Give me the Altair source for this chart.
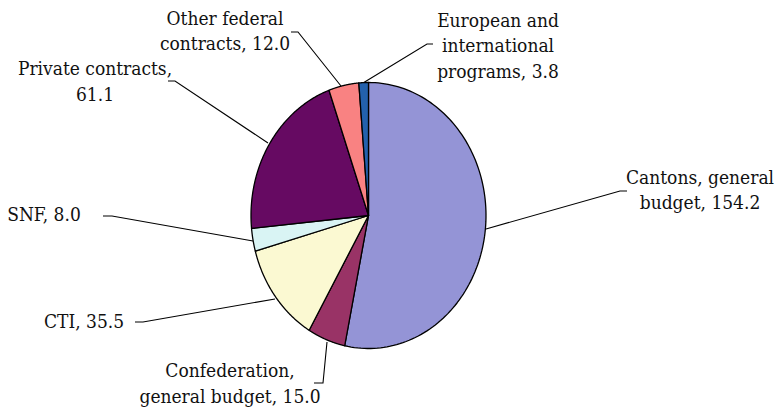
import altair as alt
import pandas as pd

# ---------------- data ----------------
categories = ["Cantons, general budget", "Confederation, general budget", "CTI", "SNF",
              "Private contracts", "Other federal contracts", "European and international programs"]
values = [154.2, 15.0, 35.5, 8.0, 61.1, 12.0, 3.8]
label_lines = [
    ["Cantons, general", "budget, 154.2"],
    ["Confederation,", "general budget, 15.0"],
    ["CTI, 35.5"],
    ["SNF, 8.0"],
    ["Private contracts,", "61.1"],
    ["Other federal", "contracts, 12.0"],
    ["European and", "international", "programs, 3.8"],
]

# ---------------- styles / layout (pixels) ----------------
colors = ["#9494d6", "#993366", "#fbf9d2", "#d9f4f4", "#660a62", "#f98282", "#2361ad"]
W, H = 775, 408
CX, CY, RX, RY = 368.5, 215.5, 117.5, 133.0
NPTS = 120
FONT = "DejaVu Serif Condensed"
FONT_SIZE = 19
LINE_H = 25.5
label_x = [700, 230, 84, 44, 95, 225, 498]
label_y0 = [177.5, 371, 321.5, 214.5, 69, 18.5, 20.5]
leaders = [
    [(486, 229), (620, 191), (627, 191)],
    [(327, 342), (323, 383), (314, 383)],
    [(275, 299), (143, 322), (135, 322)],
    [(253, 241), (112, 216), (103, 216)],
    [(268, 143), (175, 81), (168, 81)],
    [(341, 86), (298, 32), (291, 32)],
    [(363, 83), (427, 44), (433, 44)],
]

xs = alt.Scale(domain=[0, W], nice=False, zero=False)
ys = alt.Scale(domain=[0, H], nice=False, zero=False, reverse=True)

slices = pd.DataFrame({"category": categories, "value": values, "idx": list(range(len(values)))})

pie = (
    alt.Chart(slices)
    .transform_window(cum="sum(value)", sort=[alt.SortField("idx")], frame=[None, 0])
    .transform_joinaggregate(total="sum(value)")
    .transform_calculate(
        a0="2*PI*(datum.cum - datum.value)/datum.total",
        a1="2*PI*datum.cum/datum.total",
        t=f"sequence(-1, {NPTS + 1})",
    )
    .transform_flatten(["t"])
    .transform_calculate(
        ang=f"datum.a0 + (datum.a1 - datum.a0)*datum.t/{NPTS}",
        px=f"datum.t < 0 ? {CX} : {CX} + {RX}*sin(datum.ang)",
        py=f"datum.t < 0 ? {CY} : {CY} - {RY}*cos(datum.ang)",
    )
    .mark_line(filled=True, stroke="black", strokeWidth=1.3, interpolate="linear-closed",
               strokeJoin="round")
    .encode(
        x=alt.X("px:Q", scale=xs, axis=None),
        y=alt.Y("py:Q", scale=ys, axis=None),
        color=alt.Color("category:N", scale=alt.Scale(domain=categories, range=colors), legend=None),
        detail="category:N",
        order=alt.Order("t:Q"),
    )
)

lead_rows = []
for i, pts in enumerate(leaders):
    for k, (x, y) in enumerate(pts):
        lead_rows.append({"lid": i, "k": k, "x": x, "y": y})
lead_df = pd.DataFrame(lead_rows)

lead = (
    alt.Chart(lead_df)
    .mark_line(color="black", strokeWidth=1.1)
    .encode(
        x=alt.X("x:Q", scale=xs, axis=None),
        y=alt.Y("y:Q", scale=ys, axis=None),
        detail="lid:N",
        order=alt.Order("k:Q"),
    )
)

text_rows = []
for i, lines in enumerate(label_lines):
    for j, s in enumerate(lines):
        text_rows.append({"txt": s, "x": label_x[i], "y": label_y0[i] + j * LINE_H})
text_df = pd.DataFrame(text_rows)

labels = (
    alt.Chart(text_df)
    .mark_text(font=FONT, fontSize=FONT_SIZE, align="center", baseline="middle", color="#111111")
    .encode(
        x=alt.X("x:Q", scale=xs, axis=None),
        y=alt.Y("y:Q", scale=ys, axis=None),
        text="txt:N",
    )
)

chart = (
    alt.layer(lead, pie, labels)
    .properties(width=W, height=H, autosize=alt.AutoSizeParams(type="none"), padding=0,
                background="white")
    .configure_view(stroke=None)
)

chart.save("out.html", embed_options={"renderer": "svg", "actions": False})
